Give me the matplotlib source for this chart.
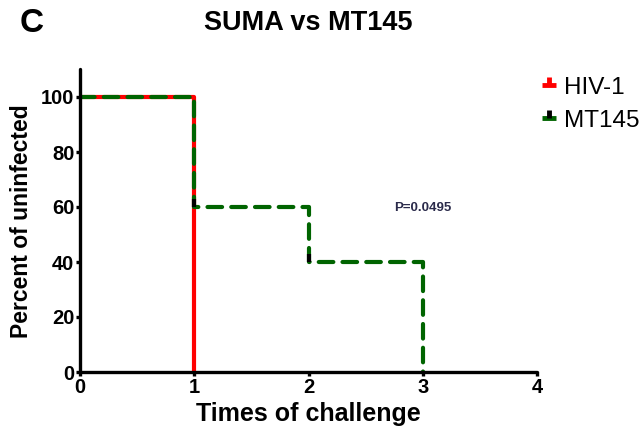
import matplotlib
matplotlib.use("Agg")
import matplotlib.pyplot as plt
from matplotlib.lines import Line2D

# Data
hiv_times = [0, 1]
hiv_pct = [100, 0]
mt_times = [0, 1, 2, 3]
mt_pct = [100, 60, 40, 0]
x_ticks = [0, 1, 2, 3, 4]
y_ticks = [0, 20, 40, 60, 80, 100]
series_names = ["HIV-1", "MT145"]
p_text = "P=0.0495"

plt.rcParams['font.family'] = ['Liberation Sans', 'DejaVu Sans']

fig = plt.figure(figsize=(6.41, 4.44), dpi=100)
ax = fig.add_axes([80/641, 1-372/444, 457/641, (372-69.5)/444])

red = '#ff0000'
green = '#006400'
up_tick = [(0, 0), (0, 1)]

ax.step(hiv_times, hiv_pct, where='post', color=red, lw=3.0, solid_capstyle='butt', zorder=3)
ax.step(mt_times, mt_pct, where='post', color=green, lw=3.0, dashes=(3.5, 2.2),
        dash_capstyle='round', zorder=4)
# censor-like black ticks at the drops of MT145
ax.plot(mt_times[1:-1], mt_pct[1:-1], ls='none', marker=up_tick, color='black',
        markersize=11, mew=3, zorder=5)

ax.set_xlim(0, 4)
ax.set_ylim(0, 110)
ax.set_xticks(x_ticks)
ax.set_yticks(y_ticks)
ax.set_xticklabels([str(v) for v in x_ticks], fontsize=14.5, fontweight='bold')
ax.set_yticklabels([str(v) for v in y_ticks], fontsize=14.5, fontweight='bold')
for s in ['top', 'right']:
    ax.spines[s].set_visible(False)
for s in ['left', 'bottom']:
    ax.spines[s].set_linewidth(2.4)
    ax.spines[s].set_capstyle('round')
ax.tick_params(axis='both', length=3, width=2.4, pad=1)
ax.spines['left'].set_zorder(6)
ax.spines['bottom'].set_zorder(6)

ax.set_xlabel("Times of challenge", fontsize=18, fontweight='bold', labelpad=4)
ax.set_ylabel("Percent of uninfected", fontsize=16.5, fontweight='bold', labelpad=6)

ax.text(3.0, 59.5, p_text, fontsize=9.5, fontweight='bold', color='#2b2b4b',
        ha='center', va='center')

fig.text(308/641, 1-23/444, "SUMA vs MT145", fontsize=19.5, fontweight='bold',
         ha='center', va='center')
fig.text(32/641, 1-23/444, "C", fontsize=24, fontweight='bold', ha='center', va='center')

h1 = (Line2D([], [], color=red, lw=3.5, solid_capstyle='butt'),
      Line2D([], [], color=red, marker=up_tick, ls='none', markersize=11, mew=3.5))
h2 = (Line2D([], [], color=green, lw=3.5, solid_capstyle='butt'),
      Line2D([], [], color='black', marker=up_tick, ls='none', markersize=11, mew=3.5))

fig.legend([h1, h2], series_names, loc='upper left', bbox_to_anchor=(532/641, 1-67/444),
           frameon=False, fontsize=17.5, handlelength=0.6, handletextpad=0.3,
           labelspacing=0.45, borderaxespad=0)

fig.savefig("out.png", dpi=100)
